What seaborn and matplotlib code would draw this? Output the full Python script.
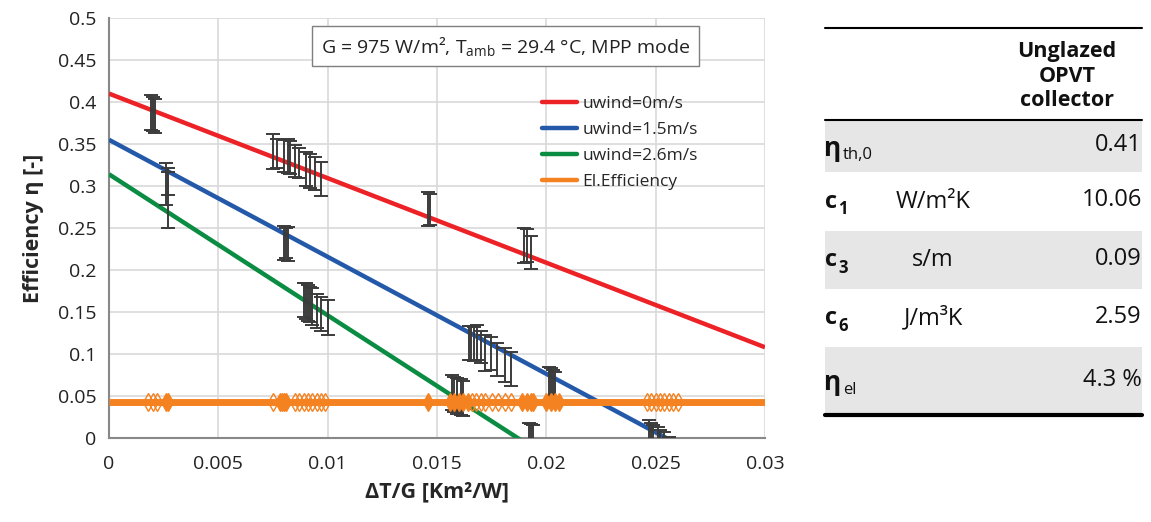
# %%
# Efficiency curves of an unglazed OPVT collector + parameter table
import numpy as np
import pandas as pd
import matplotlib
matplotlib.use("Agg")
import matplotlib.pyplot as plt
import seaborn as sns
from matplotlib.patches import Rectangle
from matplotlib.lines import Line2D
from matplotlib.ticker import FuncFormatter, MultipleLocator

# %%
# Data
series_names = ["uwind=0m/s", "uwind=1.5m/s", "uwind=2.6m/s", "El.Efficiency"]
series_colors = ["#ec2227", "#2459a9", "#0b8c43", "#f58220"]
line_x = [0.0, 0.03]
line_red = [0.41, 0.108]
line_blue = [0.355, -0.063]
line_green = [0.314, -0.190]
line_el = [0.043, 0.043]

# measured points shown only as error bars (x, lower, upper)
err_x = [0.0019, 0.0020, 0.0021,
         0.0026, 0.0027, 0.0027,
         0.0075, 0.0077, 0.0080, 0.0082, 0.0083, 0.0085, 0.0087, 0.0090, 0.0092, 0.0094, 0.0097,
         0.0080, 0.0081, 0.0082,
         0.0089, 0.0090, 0.0091, 0.0092, 0.0093, 0.0095, 0.0097, 0.0100,
         0.0146, 0.0147,
         0.0190, 0.0191, 0.0193,
         0.0157, 0.0158, 0.0159, 0.0161, 0.0162,
         0.01645, 0.01655, 0.01668, 0.01685, 0.0170, 0.0172, 0.01745, 0.01775, 0.0181, 0.0184,
         0.0192, 0.0193, 0.0194,
         0.0201, 0.0202, 0.0203, 0.0204,
         0.0247, 0.0248, 0.0249, 0.0251, 0.0252, 0.0254, 0.0256]
err_lo = [0.367, 0.365, 0.363,
          0.277, 0.289, 0.250,
          0.320, 0.322, 0.317, 0.315, 0.314, 0.311, 0.310, 0.300, 0.298, 0.295, 0.288,
          0.212, 0.214, 0.211,
          0.144, 0.142, 0.139, 0.138, 0.135, 0.131, 0.127, 0.123,
          0.252, 0.254,
          0.208, 0.210, 0.201,
          0.033, 0.031, 0.029, 0.027, 0.026,
          0.093, 0.093, 0.092, 0.093, 0.089, 0.080, 0.081, 0.074, 0.067, 0.062,
          -0.020, -0.022, -0.024,
          0.040, 0.039, 0.038, 0.037,
          -0.020, -0.022, -0.025, -0.027, -0.030, -0.032, -0.038]
err_hi = [0.408, 0.406, 0.404,
          0.327, 0.321, 0.317,
          0.362, 0.356, 0.355, 0.356, 0.353, 0.349, 0.345, 0.341, 0.338, 0.335, 0.328,
          0.252, 0.250, 0.251,
          0.185, 0.184, 0.182, 0.180, 0.178, 0.172, 0.168, 0.164,
          0.293, 0.291,
          0.250, 0.249, 0.240,
          0.075, 0.073, 0.071, 0.070, 0.068,
          0.133, 0.133, 0.132, 0.134, 0.127, 0.123, 0.120, 0.113, 0.107, 0.102,
          0.018, 0.017, 0.016,
          0.085, 0.083, 0.081, 0.079,
          0.021, 0.018, 0.0155, 0.0127, 0.0095, 0.0075, 0.0015]

# electrical efficiency points
el_value = 0.043
el_x_filled = [0.0026, 0.0027, 0.0078, 0.0079, 0.0080, 0.0081, 0.0146,
               0.0156, 0.0158, 0.0160, 0.0162, 0.0164,
               0.0189, 0.0191, 0.0193, 0.0194, 0.0200, 0.0202, 0.0204, 0.0206]
el_x_open = [0.0018, 0.0020, 0.0022, 0.0075, 0.0085, 0.0087, 0.0089, 0.0091, 0.0093,
             0.0095, 0.0097, 0.0099, 0.0166, 0.0168, 0.0170, 0.0172, 0.0175, 0.0178,
             0.0181, 0.0184, 0.0246, 0.0248, 0.0250, 0.0252, 0.0254, 0.0256, 0.0258, 0.0260]

# parameter table
table_header = "Unglazed\nOPVT\ncollector"
param_symbols = ["η", "c", "c", "c", "η"]
param_subs = ["th,0", "1", "3", "6", "el"]
param_units = ["", "W/m²K", "s/m", "J/m³K", ""]
param_values = ["0.41", "10.06", "0.09", "2.59", "4.3 %"]

# %%
sns.set_theme(style="whitegrid")
plt.rcParams["font.family"] = ["Open Sans", "DejaVu Sans"]
plt.rcParams["mathtext.fontset"] = "custom"
plt.rcParams["mathtext.rm"] = "Open Sans"
plt.rcParams["mathtext.it"] = "Open Sans:italic"
plt.rcParams["mathtext.bf"] = "Open Sans:bold"

W, H = 1151, 522
fig = plt.figure(figsize=(W / 100, H / 100), dpi=100)
fig.patch.set_facecolor("white")


def fx(px):
    return px / W


def fy(py):
    return 1 - py / H


ax = fig.add_axes([fx(109), fy(438), fx(765) - fx(109), fy(18) - fy(438)])
ax.set_facecolor("white")

lines_df = pd.DataFrame({
    "x": line_x * 4,
    "y": line_red + line_blue + line_green + line_el,
    "series": [n for n in series_names for _ in line_x],
})
sns.lineplot(data=lines_df, x="x", y="y", hue="series", hue_order=series_names,
             palette=series_colors, ax=ax, legend=False, zorder=3)
for ln, lw in zip(ax.lines, [3.2, 3.2, 3.2, 5]):
    ln.set_linewidth(lw)
    ln.set_solid_capstyle("butt")

# error bars
err_x_a = np.array(err_x)
err_lo_a = np.array(err_lo)
err_hi_a = np.array(err_hi)
mid = (err_lo_a + err_hi_a) / 2
ax.errorbar(err_x_a, mid, yerr=[mid - err_lo_a, err_hi_a - mid], fmt="none",
            ecolor="#3b3b3b", elinewidth=1.4, capsize=5, capthick=1.4, zorder=4)

# electrical efficiency markers
ax.plot(el_x_open, [el_value] * len(el_x_open), linestyle="none", marker="d",
        markersize=9, markerfacecolor="none", markeredgecolor=series_colors[3],
        markeredgewidth=1.0, zorder=5)
ax.plot(el_x_filled, [el_value] * len(el_x_filled), linestyle="none", marker="d",
        markersize=9, markerfacecolor=series_colors[3], markeredgecolor=series_colors[3],
        zorder=5)

ax.set_xlim(0, 0.03)
ax.set_ylim(0, 0.5)
ax.xaxis.set_major_locator(MultipleLocator(0.005))
ax.yaxis.set_major_locator(MultipleLocator(0.05))
fmt = FuncFormatter(lambda v, p: f"{round(v, 4):g}")
ax.xaxis.set_major_formatter(fmt)
ax.yaxis.set_major_formatter(fmt)
ax.tick_params(axis="both", labelsize=14, colors="#222222", length=5,
               width=1, direction="out", pad=4)
ax.tick_params(axis="x", pad=7)
ax.tick_params(axis="both", color="#888888")
ax.grid(True, color="#d9d9d9", linewidth=1.2)
for side in ["top", "right"]:
    ax.spines[side].set_visible(False)
for side in ["left", "bottom"]:
    ax.spines[side].set_color("#888888")
    ax.spines[side].set_linewidth(1.5)
ax.set_xlabel("ΔT/G [Km²/W]", fontsize=15.5, fontweight="bold", labelpad=6)
ax.set_ylabel("Efficiency η [-]", fontsize=15.5, fontweight="bold", labelpad=10)

ax.text(0.605, 0.933, r"G = 975 W/m², T$_{\rm amb}$ = 29.4 °C, MPP mode",
        transform=ax.transAxes, ha="center", va="center", fontsize=14,
        color="#222222",
        bbox=dict(boxstyle="square,pad=0.45", facecolor="white", edgecolor="#7f7f7f",
                  linewidth=1.0), zorder=6)

handles = [Line2D([], [], color=c, lw=3.2) for c in series_colors]
ax.legend(handles, series_names, loc="upper left", bbox_to_anchor=(0.65, 0.83),
          frameon=False, fontsize=12.5, handlelength=2.0, handletextpad=0.3,
          labelspacing=0.55, borderaxespad=0)

# %%
# parameter table drawn on the figure
row_edges = [120, 172, 231, 289, 347, 414]
for i in range(len(param_values)):
    if i % 2 == 0:
        fig.add_artist(Rectangle((fx(825), fy(row_edges[i + 1])), fx(1142) - fx(825),
                                 fy(row_edges[i]) - fy(row_edges[i + 1]),
                                 transform=fig.transFigure, facecolor="#e6e6e6",
                                 edgecolor="none", zorder=0))
fig.add_artist(Line2D([fx(825), fx(1142)], [fy(28), fy(28)], color="black", lw=1.5))
fig.add_artist(Line2D([fx(825), fx(1142)], [fy(120), fy(120)], color="black", lw=1.5))
fig.add_artist(Line2D([fx(825), fx(1142)], [fy(415), fy(415)], color="black", lw=3))

fig.text(fx(1067), fy(76), table_header, ha="center", va="center", fontsize=15.5,
         fontweight="bold", linespacing=1.2, color="#111111")

for i in range(len(param_values)):
    yc = (row_edges[i] + row_edges[i + 1]) / 2
    if param_symbols[i] == "η":
        fig.text(fx(824), fy(yc + 2), param_symbols[i], ha="left", va="center",
                 fontsize=19, fontweight="bold", color="#111111")
        fig.text(fx(843), fy(yc + 9), param_subs[i], ha="left", va="center",
                 fontsize=12, color="#111111")
    else:
        fig.text(fx(825), fy(yc), param_symbols[i], ha="left", va="center",
                 fontsize=17, fontweight="bold", color="#111111")
        fig.text(fx(838), fy(yc + 8), param_subs[i], ha="left", va="center",
                 fontsize=12, fontweight="bold", color="#111111")
    if param_units[i]:
        fig.text(fx(933), fy(yc), param_units[i], ha="center", va="center",
                 fontsize=17, color="#111111")
    fig.text(fx(1142), fy(yc - 1), param_values[i], ha="right", va="center",
             fontsize=17, color="#111111")

fig.savefig("out.png", dpi=100, facecolor="white")
